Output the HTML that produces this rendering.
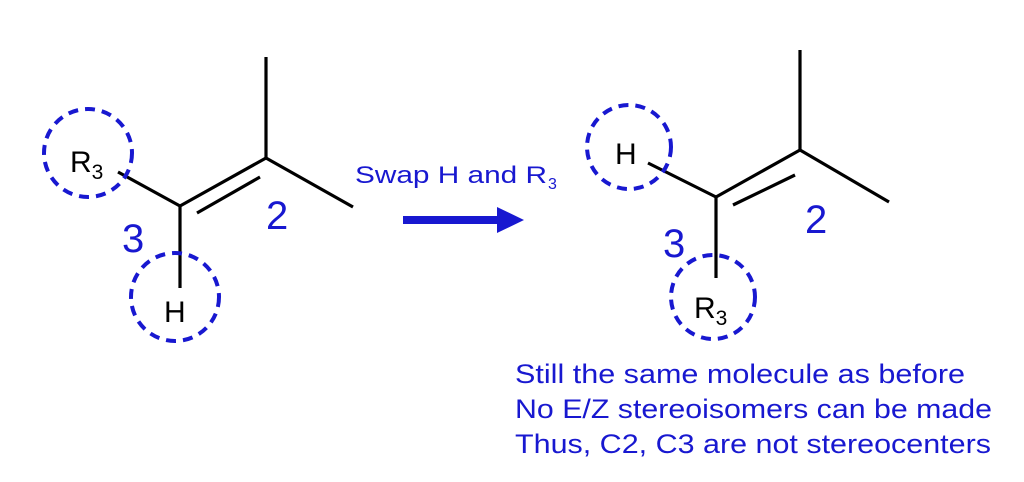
<!DOCTYPE html>
<html><head><meta charset="utf-8"><style>html,body{margin:0;padding:0;background:#fff}svg{display:block}</style></head><body>
<svg width="1024" height="482" viewBox="0 0 1024 482" xmlns="http://www.w3.org/2000/svg" font-family="Liberation Sans, Arial, sans-serif">
<g stroke="#000" stroke-width="3.2" fill="none" stroke-linecap="butt">
<line x1="266" y1="57" x2="266" y2="158"/>
<line x1="266" y1="158" x2="353" y2="207"/>
<line x1="266" y1="158" x2="180" y2="206"/>
<line x1="197" y1="213" x2="260" y2="177"/>
<line x1="180" y1="206" x2="118" y2="172"/>
<line x1="180" y1="206" x2="180" y2="288"/>
<line x1="800" y1="50" x2="800" y2="150"/>
<line x1="800" y1="150" x2="889" y2="202"/>
<line x1="800" y1="150" x2="716" y2="197"/>
<line x1="733" y1="205" x2="795" y2="175"/>
<line x1="716" y1="197" x2="648" y2="163"/>
<line x1="716" y1="197" x2="716" y2="278"/>
</g>
<g stroke="#1818d0" stroke-width="4" fill="none" stroke-dasharray="10 7">
<circle cx="88" cy="153" r="44"/>
<circle cx="175" cy="297" r="44"/>
<circle cx="629" cy="147" r="42"/>
<circle cx="713" cy="297" r="42"/>
</g>
<g fill="#000" font-size="30">
<text x="70" y="172">R<tspan font-size="21" dy="7">3</tspan></text>
<text x="164" y="322">H</text>
<text x="615" y="164">H</text>
<text x="694" y="318">R<tspan font-size="21" dy="7">3</tspan></text>
</g>
<g fill="#1818d0">
<text x="122" y="252" font-size="40">3</text>
<text x="266" y="229" font-size="40">2</text>
<text x="663" y="257" font-size="40">3</text>
<text x="805" y="233" font-size="40">2</text>
<text x="355" y="183" font-size="24" textLength="192" lengthAdjust="spacingAndGlyphs">Swap H and R</text>
<text x="548" y="189" font-size="16">3</text>
<rect x="403" y="216" width="96" height="8"/>
<polygon points="497,207 524,220 497,233"/>
<g font-size="27">
<text x="515" y="383" textLength="450" lengthAdjust="spacingAndGlyphs">Still the same molecule as before</text>
<text x="515" y="418" textLength="477" lengthAdjust="spacingAndGlyphs">No E/Z stereoisomers can be made</text>
<text x="515" y="453" textLength="476" lengthAdjust="spacingAndGlyphs">Thus, C2, C3 are not stereocenters</text>
</g>
</g>
</svg>
</body></html>
